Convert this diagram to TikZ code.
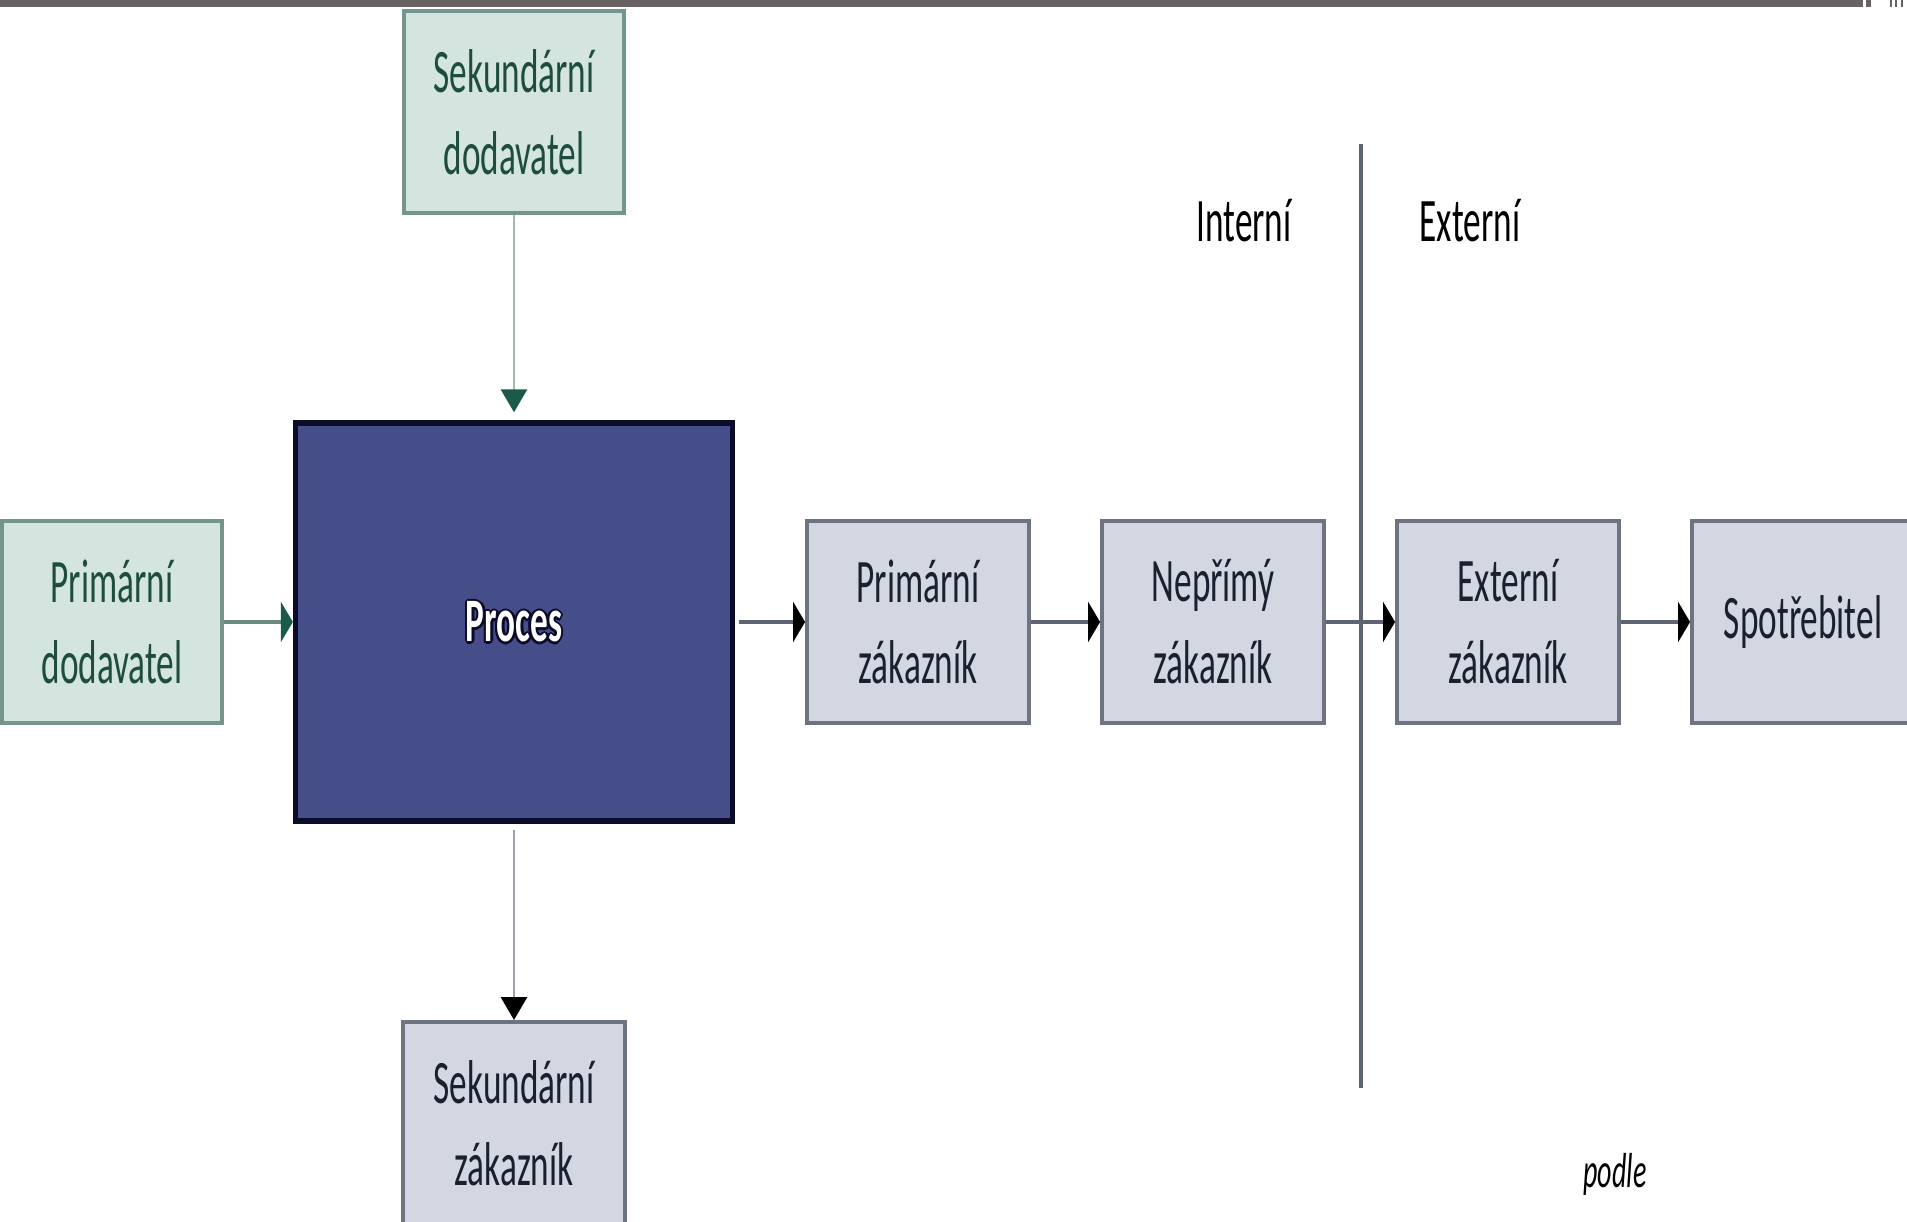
\documentclass[tikz,border=0pt]{standalone}
\usepackage{fontspec}
\setmainfont{Carlito}[FakeStretch=0.57]
\usepackage{xcolor}
\usepackage{tikz}
\usetikzlibrary{shapes,arrows.meta,positioning}
\definecolor{zelenavypln}{HTML}{D4E5E0}
\definecolor{zelenaokraj}{HTML}{74958B}
\definecolor{zelenatext}{HTML}{1E4D40}
\definecolor{zelenacara}{HTML}{6A8C80}
\definecolor{zelenasipka}{HTML}{1B5A4A}
\definecolor{svetlacara}{HTML}{A3BAB3}
\definecolor{sedavypln}{HTML}{D3D7E1}
\definecolor{sedaokraj}{HTML}{6E7381}
\definecolor{sedatext}{HTML}{1B2030}
\definecolor{sedacara}{HTML}{5F6473}
\definecolor{sedasvetla}{HTML}{9DA1AA}
\definecolor{procesmodra}{HTML}{464E8A}
\definecolor{procesokraj}{HTML}{0B0B2A}
\definecolor{lista}{HTML}{686362}
\newcommand{\pismo}{\fontsize{17.6pt}{23.3pt}\selectfont}
\tikzstyle{dodavatel} = [rectangle, draw=zelenaokraj, fill=zelenavypln, text=zelenatext,
line width=1.1pt, minimum width=2.2cm, minimum height=2.02cm, inner sep=0pt, align=center, font=\pismo]
\tikzstyle{zakaznik} = [rectangle, draw=sedaokraj, fill=sedavypln, text=sedatext,
line width=1.1pt, minimum width=2.22cm, minimum height=2.02cm, inner sep=0pt, align=center, font=\pismo]
\tikzstyle{procesbox} = [rectangle, draw=procesokraj, fill=procesmodra, line width=1.5pt,
minimum width=4.37cm, minimum height=3.98cm]
\tikzstyle{obrys} = [text=procesokraj, font=\pismo\bfseries, inner sep=0pt]
\tikzstyle{napis} = [text=white, font=\pismo\bfseries, inner sep=0pt]
\tikzstyle{popisek} = [text=black, font=\pismo, inner sep=0pt]
\tikzstyle{pijl} = [draw=sedacara, line width=1.4pt, -{Triangle[length=0.12cm, width=0.40cm, color=black]}]
\tikzstyle{pijlzeleny} = [draw=zelenacara, line width=1.4pt, -{Triangle[length=0.12cm, width=0.40cm, color=zelenasipka]}]
\tikzstyle{pijlshora} = [draw=svetlacara, line width=0.8pt, -{Triangle[length=0.23cm, width=0.26cm, color=zelenasipka]}]
\tikzstyle{pijldolu} = [draw=sedasvetla, line width=0.8pt, -{Triangle[length=0.23cm, width=0.26cm, color=black]}]
\tikzstyle{delici} = [draw=sedacara, line width=0.9pt]

\begin{document}
\begin{tikzpicture}
	\useasboundingbox (0,0) rectangle (19.07,-12.22);
	
	% lista nahore
	\fill [lista] (0,0) rectangle (18.63,-0.07);
	\fill [lista] (18.66,0) rectangle (18.71,-0.07);
	\fill [lista] (18.90,0) rectangle (18.92,-0.07);
	\fill [lista] (18.95,0) rectangle (18.97,-0.07);
	\fill [lista] (19.01,0) rectangle (19.03,-0.07);
	
	
	\node [procesbox] (proces) at (5.14,-6.22) {};
	\foreach \dx/\dy [count=\i] in {0.025/0, -0.025/0, 0/0.025, 0/-0.025, 0.018/0.018, -0.018/0.018, 0.018/-0.018, -0.018/-0.018}
		\node [obrys, xshift=\dx cm, yshift=\dy cm] (obrys\i) at (proces) {Proces};
	\node [napis] (procesnapis) at (proces) {Proces};
	
	\node [dodavatel, above of=proces, node distance=5.1cm] (sekdod) {Sekundární\\dodavatel};
	\node [dodavatel, left of=proces, node distance=4.02cm] (primdod) {Primární\\dodavatel};
	
	\node [zakaznik, right of=proces, node distance=4.04cm] (primzak) {Primární\\zákazník};
	\node [zakaznik, right of=primzak, node distance=2.95cm] (neprzak) {Nepřímý\\zákazník};
	\node [zakaznik, right of=neprzak, node distance=2.95cm] (extzak) {Externí\\zákazník};
	\node [zakaznik, right of=extzak, node distance=2.95cm] (spotr) {Spotřebitel};
	
	\node [zakaznik, below of=proces, node distance=5.01cm] (sekzak) {Sekundární\\zákazník};
	
	
	\path [pijlzeleny] (primdod)--(proces);
	\path [pijl, shorten <=0.04cm] (proces)--(primzak);
	\path [pijl] (primzak)--(neprzak);
	\path [pijl] (neprzak)--(extzak);
	\path [pijl] (extzak)--(spotr);
	
	\path [pijlshora, shorten >=0.08cm] (sekdod)--(proces);
	\path [pijldolu, shorten <=0.06cm] (proces)--(sekzak);
	
	
	% hranice interni / externi
	\path [delici] (13.61,-1.44)--(13.61,-10.88);
	\node [popisek, anchor=base] (interni) at (12.44,-2.42) {Interní};
	\node [popisek, anchor=base] (externi) at (14.70,-2.42) {Externí};
	
	\node [popisek, anchor=base, font=\fontsize{14pt}{17pt}\selectfont\itshape] (podle) at (16.15,-11.88) {podle};
\end{tikzpicture}
\end{document}
